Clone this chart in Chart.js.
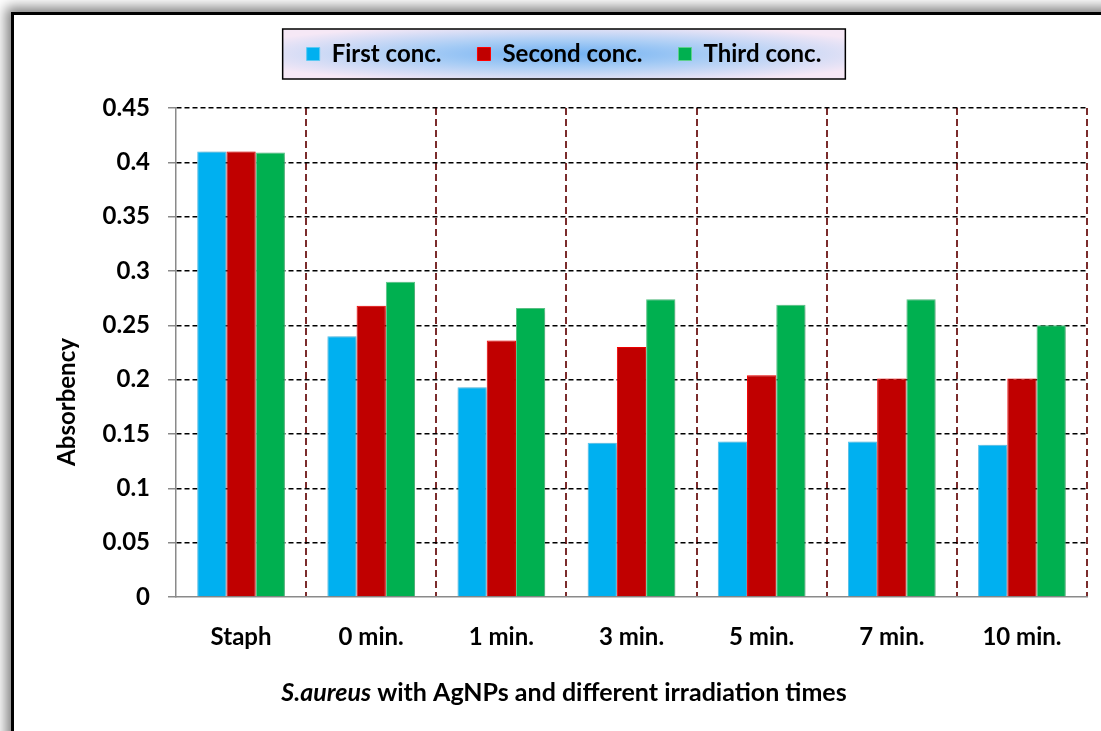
<!DOCTYPE html>
<html>
<head>
<meta charset="utf-8">
<title>Absorbency of S.aureus with AgNPs</title>
<script src="https://cdn.jsdelivr.net/npm/chart.js@4.4.1/dist/chart.umd.min.js"></script>
<style>
  html, body { margin: 0; padding: 0; width: 1101px; height: 731px; overflow: hidden; background: #fff; }
  #frame {
    position: absolute; left: 11px; top: 12px; width: 1200px; height: 900px;
    border: 3px solid #000; background: #fff;
    box-shadow: -5px -5px 12px rgba(0, 0, 0, 0.5);
  }
  #wrap { position: absolute; left: 0; top: 0; width: 1101px; height: 731px; }
</style>
</head>
<body>
<div id="frame"></div>
<div id="wrap"><canvas id="chart" width="1101" height="731"></canvas></div>
<script>
// Categories along the x axis
const categories = ['Staph', '0 min.', '1 min.', '3 min.', '5 min.', '7 min.', '10 min.'];

// Absorbency readings for each concentration
const firstConc  = [0.41, 0.24, 0.193, 0.142, 0.143, 0.143, 0.14];
const secondConc = [0.41, 0.268, 0.236, 0.23, 0.204, 0.201, 0.201];
const thirdConc  = [0.409, 0.29, 0.266, 0.274, 0.269, 0.274, 0.25];

const seriesNames = ['First conc.', 'Second conc.', 'Third conc.'];

// Value-axis labels, bottom to top
const yTickLabels = ['0', '0.05', '0.1', '0.15', '0.2', '0.25', '0.3', '0.35', '0.4', '0.45'];

const yTitle = 'Absorbency';
const xTitleItalic = 'S.aureus';
const xTitleRest = ' with AgNPs and different irradiation times';

const FONT = 'Lato';
Chart.defaults.font.family = FONT;
Chart.defaults.color = '#000';

// Gradient panel with a thin black border behind the legend entries
const legendPanel = {
  id: 'legendPanel',
  beforeDraw(chart) {
    const lg = chart.legend;
    if (!lg || !lg.legendHitBoxes || !lg.legendHitBoxes.length) return;
    const hb = lg.legendHitBoxes;
    const first = hb[0], last = hb[hb.length - 1];
    const x0 = first.left - 24;
    const x1 = last.left + last.width + 24;
    const cy = first.top + first.height / 2;
    const h = 50, w = x1 - x0, cx = (x0 + x1) / 2;
    const ctx = chart.ctx;
    ctx.save();
    ctx.translate(cx, cy);
    ctx.scale(w / h, 1);
    const g = ctx.createRadialGradient(0, 0, 0, 0, 0, h * 0.6);
    g.addColorStop(0, '#6fb0f2');
    g.addColorStop(0.45, '#a9cdf5');
    g.addColorStop(1, '#f6e8f6');
    ctx.fillStyle = g;
    ctx.fillRect(-h / 2, -h / 2, h, h);
    ctx.restore();
    ctx.save();
    ctx.lineWidth = 1.5;
    ctx.strokeStyle = '#000';
    ctx.strokeRect(x0, cy - h / 2, w, h);
    ctx.restore();
  }
};

// Soft drop shadow under the bars
const barShadow = {
  id: 'barShadow',
  beforeDatasetsDraw(chart) {
    const c = chart.ctx;
    c.save();
    c.shadowColor = 'rgba(0,0,0,0.25)';
    c.shadowBlur = 6;
    c.shadowOffsetX = 2;
    c.shadowOffsetY = 1;
  },
  afterDatasetsDraw(chart) {
    chart.ctx.restore();
  }
};

// Axis titles: the x title mixes an italic species name with upright text
const axisTitles = {
  id: 'axisTitles',
  afterDraw(chart) {
    const ctx = chart.ctx, a = chart.chartArea;
    const fItal = 'italic bold 25px ' + FONT;
    const fBold = 'bold 25px ' + FONT;
    ctx.save();
    ctx.fillStyle = '#000';
    ctx.textBaseline = 'middle';
    ctx.textAlign = 'left';
    ctx.font = fItal;
    const w1 = ctx.measureText(xTitleItalic).width;
    ctx.font = fBold;
    const w2 = ctx.measureText(xTitleRest).width;
    const cx = (chart.legend.left + chart.legend.right) / 2;
    const x = cx - (w1 + w2) / 2;
    const y = a.bottom + 96;
    ctx.font = fItal;
    ctx.fillText(xTitleItalic, x, y);
    ctx.font = fBold;
    ctx.fillText(xTitleRest, x + w1, y);

    ctx.translate(a.left - 109, a.top + 294);
    ctx.rotate(-Math.PI / 2);
    ctx.textAlign = 'center';
    ctx.font = 'bold 24px ' + FONT;
    ctx.fillText(yTitle, 0, 0);
    ctx.restore();
  }
};

const barCommon = { borderWidth: 1, barPercentage: 1.0, categoryPercentage: 0.674 };

new Chart(document.getElementById('chart'), {
  type: 'bar',
  data: {
    labels: categories,
    datasets: [
      Object.assign({ label: seriesNames[0], data: firstConc,  backgroundColor: '#00B0F0', borderColor: '#5cc9f3' }, barCommon),
      Object.assign({ label: seriesNames[1], data: secondConc, backgroundColor: '#C00000', borderColor: '#FF0000' }, barCommon),
      Object.assign({ label: seriesNames[2], data: thirdConc,  backgroundColor: '#00B050', borderColor: '#5fcf8e' }, barCommon)
    ]
  },
  options: {
    responsive: false,
    devicePixelRatio: 1,
    animation: false,
    layout: { padding: { left: 41, right: 14, top: 6, bottom: 0 } },
    plugins: {
      legend: {
        position: 'top',
        weight: 1000,
        labels: {
          boxWidth: 13,
          boxHeight: 13,
          padding: 36,
          color: '#000',
          font: { size: 24, weight: 'bold' }
        }
      },
      // empty title box placed between the legend and the plot as spacing
      title: {
        display: true,
        text: '',
        weight: 500,
        font: { size: 20, lineHeight: 1 },
        padding: { top: 6, bottom: 6 }
      },
      tooltip: { enabled: false }
    },
    scales: {
      x: {
        offset: true,
        grid: {
          offset: true,
          drawTicks: false,
          lineWidth: 2,
          color: (c) => (c.index === 0 ? 'rgba(0,0,0,0)' : '#7b2c2c')
        },
        border: { display: true, color: '#8a8a8a', width: 1.5, dash: [7, 4] },
        ticks: { padding: 26, color: '#000', font: { size: 24, weight: 'bold' } },
        afterFit: (s) => { s.height = 134; }
      },
      y: {
        min: 0,
        max: 0.45,
        ticks: {
          stepSize: 0.05,
          padding: 18,
          color: '#000',
          font: { size: 24, weight: 'bold' },
          callback: (v, i) => yTickLabels[i]
        },
        grid: {
          lineWidth: 1.5,
          color: (c) => (c.index === 0 ? 'rgba(0,0,0,0)' : '#000'),
          tickLength: 8,
          tickColor: '#8a8a8a',
          tickWidth: 1.5,
          tickBorderDash: []
        },
        border: { display: true, color: '#8a8a8a', width: 1.5, dash: [5, 3] },
        afterFit: (s) => { s.width = 135; }
      }
    }
  },
  plugins: [legendPanel, barShadow, axisTitles]
});
</script>
</body>
</html>
